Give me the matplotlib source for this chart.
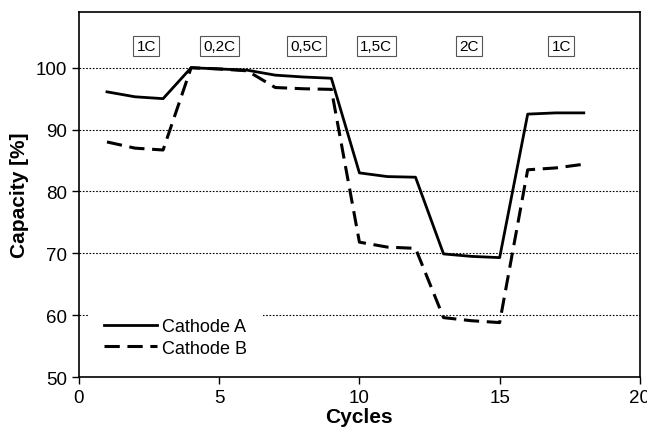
import matplotlib
matplotlib.use("Agg")
import matplotlib.pyplot as plt

plt.rcParams['font.family'] = ['Liberation Sans', 'DejaVu Sans']

cycles = list(range(1, 19))
cathode_a = [96.1, 95.3, 95.0, 100.0, 99.8, 99.6, 98.8, 98.5, 98.3,
             83.0, 82.4, 82.3, 69.9, 69.5, 69.3, 92.5, 92.7, 92.7]
cathode_b = [88.0, 87.0, 86.7, 100.0, 99.8, 99.5, 96.8, 96.6, 96.5,
             71.8, 71.0, 70.8, 59.6, 59.1, 58.8, 83.5, 83.8, 84.4]

rate_labels = ["1C", "0,2C", "0,5C", "1,5C", "2C", "1C"]
rate_x = [2.4, 5.0, 8.1, 10.6, 13.9, 17.2]
rate_y = 103.5

fig = plt.figure(figsize=(6.47, 4.35), dpi=100)
ax = fig.add_axes([0.122, 0.131, 0.867, 0.839])

for yv in [60, 70, 80, 90, 100]:
    ax.axhline(yv, color='black', lw=0.8, ls=(0, (1.5, 1.5)), zorder=1)

ax.plot(cycles, cathode_a, color='black', lw=2.0, label='Cathode A', zorder=3)
ax.plot(cycles, cathode_b, color='black', lw=2.2, ls=(0, (5, 2.5)), label='Cathode B', zorder=3)

for lbl, xv in zip(rate_labels, rate_x):
    ax.text(xv, rate_y, lbl, ha='center', va='center', fontsize=11,
            bbox=dict(boxstyle='square,pad=0.22', fc='white', ec='#555555', lw=0.8), zorder=4)

ax.set_xlim(0, 20)
ax.set_ylim(50, 109)
ax.set_xticks([0, 5, 10, 15, 20])
ax.set_yticks([50, 60, 70, 80, 90, 100])
ax.tick_params(direction='out', length=5, labelsize=13.5, width=1)
for s in ax.spines.values():
    s.set_linewidth(1.2)

ax.set_xlabel('Cycles', fontsize=15, fontweight='bold', labelpad=1)
ax.set_ylabel('Capacity [%]', fontsize=15, fontweight='bold', labelpad=5)

leg = ax.legend(loc='lower left', bbox_to_anchor=(0.016, 0.011), frameon=True, fontsize=13,
                handlelength=2.9, handletextpad=0.28, borderpad=0.9, labelspacing=0.25,
                borderaxespad=0)
leg.get_frame().set_edgecolor('none')
leg.get_frame().set_facecolor('white')
leg.get_frame().set_alpha(1)
leg.set_zorder(5)

fig.savefig('out.png', dpi=100)
